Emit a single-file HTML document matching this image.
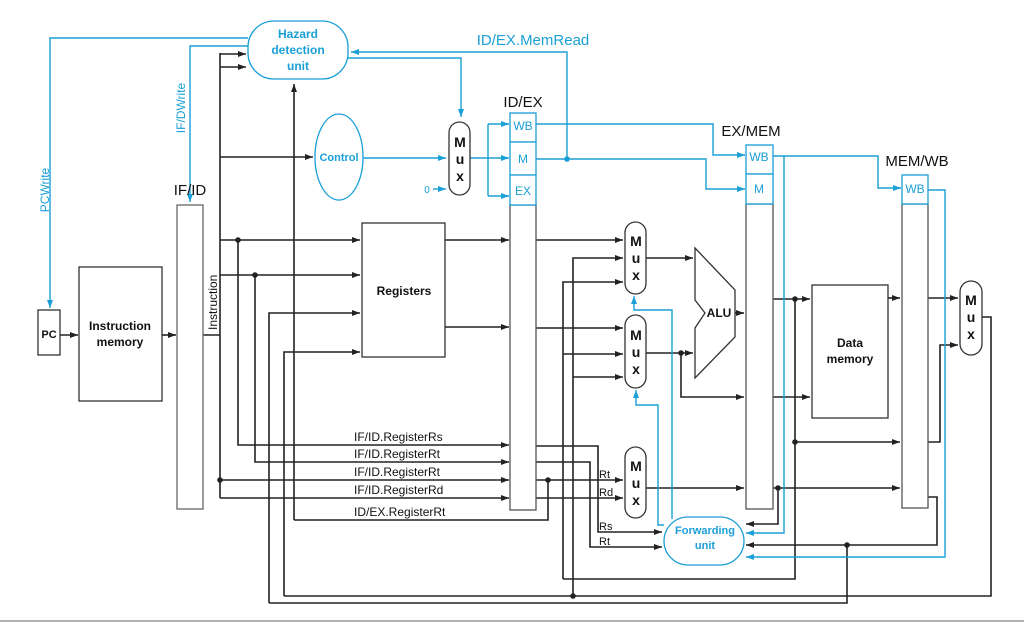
<!DOCTYPE html>
<html><head><meta charset="utf-8"><style>
html,body{margin:0;padding:0;background:#fff;}
svg{display:block;}
text{font-family:"Liberation Sans",sans-serif;}
</style></head><body>
<svg width="1024" height="632" viewBox="0 0 1024 632" xmlns="http://www.w3.org/2000/svg">
<defs>
<marker id="ab" markerWidth="8" markerHeight="6" refX="8" refY="3" orient="auto" markerUnits="userSpaceOnUse"><path d="M0,0 L8,3 L0,6 z" fill="#222"/></marker>
<marker id="au" markerWidth="8" markerHeight="6" refX="8" refY="3" orient="auto" markerUnits="userSpaceOnUse"><path d="M0,0 L8,3 L0,6 z" fill="#1a9fd6"/></marker>
</defs>
<g fill="none" stroke="#222" stroke-width="1.6">
<!-- PC/IM -->
<path d="M60,335 H78" marker-end="url(#ab)"/>
<path d="M162,335 H176" marker-end="url(#ab)"/>
<path d="M203,335 H220"/>
<path d="M220,53 V498"/>
<path d="M220,54 H246" marker-end="url(#ab)"/>
<path d="M220,67 H246" marker-end="url(#ab)"/>
<path d="M220,157 H313" marker-end="url(#ab)"/>
<path d="M220,240 H360" marker-end="url(#ab)"/>
<path d="M220,275 H360" marker-end="url(#ab)"/>
<path d="M238,240 V445 H509" marker-end="url(#ab)"/>
<path d="M255,275 V462 H509" marker-end="url(#ab)"/>
<path d="M220,480 H509" marker-end="url(#ab)"/>
<path d="M220,498 H509" marker-end="url(#ab)"/>
<path d="M294,520 V84" marker-end="url(#ab)"/>
<path d="M294,520 H548 V480"/>
<path d="M269,603 V313 H360" marker-end="url(#ab)"/>
<path d="M284,596 V352 H360" marker-end="url(#ab)"/>
<path d="M269,603 H847 V545"/>
<path d="M284,596 H991 V317 H982"/>
<!-- registers out -->
<path d="M445,240 H509" marker-end="url(#ab)"/>
<path d="M445,327 H509" marker-end="url(#ab)"/>
<path d="M536,240 H623" marker-end="url(#ab)"/>
<path d="M536,328 H623" marker-end="url(#ab)"/>
<path d="M573,596 V258 H623" marker-end="url(#ab)"/>
<path d="M573,377 H623" marker-end="url(#ab)"/>
<path d="M563,579 V282 H623" marker-end="url(#ab)"/>
<path d="M563,354 H623" marker-end="url(#ab)"/>
<path d="M563,579 H795 V299"/>
<path d="M536,446 H598 V532 H662" marker-end="url(#ab)"/>
<path d="M536,462 H590 V547 H662" marker-end="url(#ab)"/>
<path d="M536,480 H623" marker-end="url(#ab)"/>
<path d="M536,498 H623" marker-end="url(#ab)"/>
<!-- ALU -->
<path d="M646,258 H693" marker-end="url(#ab)"/>
<path d="M646,353 H693" marker-end="url(#ab)"/>
<path d="M681,353 V397 H744" marker-end="url(#ab)"/>
<path d="M735,313 H744" marker-end="url(#ab)"/>
<path d="M646,488 H744" marker-end="url(#ab)"/>
<path d="M773,488 H900" marker-end="url(#ab)"/>
<path d="M778,488 V524 H746" marker-end="url(#ab)"/>
<path d="M773,299 H810" marker-end="url(#ab)"/>
<path d="M773,397 H810" marker-end="url(#ab)"/>
<path d="M795,442 H900" marker-end="url(#ab)"/>
<path d="M888,298 H900" marker-end="url(#ab)"/>
<path d="M928,298 H958" marker-end="url(#ab)"/>
<path d="M928,442 H940 V345 H958" marker-end="url(#ab)"/>
<path d="M928,497 H937 V545 H746" marker-end="url(#ab)"/>
</g>
<g fill="#222">
<circle cx="238" cy="240" r="2.8"/><circle cx="255" cy="275" r="2.8"/><circle cx="220" cy="480" r="2.8"/>
<circle cx="548" cy="480" r="2.8"/><circle cx="573" cy="596" r="2.8"/><circle cx="681" cy="353" r="2.8"/>
<circle cx="795" cy="299" r="2.8"/><circle cx="795" cy="442" r="2.8"/><circle cx="778" cy="488" r="2.8"/>
<circle cx="847" cy="545" r="2.8"/>
</g>
<!-- blue lines -->
<g fill="none" stroke="#1a9fd6" stroke-width="1.4">
<path d="M248,38 H50 V308" marker-end="url(#au)"/>
<path d="M248,46 H190 V202" marker-end="url(#au)"/>
<path d="M348,58 H461 V117" marker-end="url(#au)"/>
<path d="M567,159 V52 H351" marker-end="url(#au)"/>
<path d="M363,158 H446" marker-end="url(#au)"/>
<path d="M433,189 H446" marker-end="url(#au)"/>
<path d="M470,158 H509" marker-end="url(#au)"/>
<path d="M488,124 V196"/>
<path d="M488,124 H509" marker-end="url(#au)"/>
<path d="M488,196 H509" marker-end="url(#au)"/>
<path d="M536,124 H713 V155 H745" marker-end="url(#au)"/>
<path d="M536,159 H706 V189 H745" marker-end="url(#au)"/>
<path d="M773,156 H878 V188 H901" marker-end="url(#au)"/>
<path d="M784,156 V533 H746" marker-end="url(#au)"/>
<path d="M928,190 H945 V557 H746" marker-end="url(#au)"/>
<path d="M672,519 V310 H634 V296" marker-end="url(#au)"/>
<path d="M664,525 H658 V405 H636 V390" marker-end="url(#au)"/>
</g>
<circle cx="567" cy="159" r="2.8" fill="#1a9fd6"/>
<!-- boxes -->
<g fill="#fff" stroke="#333" stroke-width="1.3">
<rect x="38" y="310" width="22" height="45"/>
<rect x="79" y="267" width="83" height="134"/>
<rect x="177" y="205" width="26" height="304" stroke="#666"/>
<rect x="362" y="223" width="83" height="134"/>
<rect x="510" y="205" width="26" height="305" stroke="#555"/>
<rect x="746" y="204" width="27" height="305" stroke="#555"/>
<rect x="902" y="204" width="26" height="304" stroke="#555"/>
<rect x="812" y="285" width="76" height="133"/>
<rect x="449" y="122" width="21" height="73" rx="10.5"/>
<rect x="625" y="222" width="21" height="72" rx="10.5"/>
<rect x="625" y="315" width="21" height="73" rx="10.5"/>
<rect x="625" y="447" width="21" height="71" rx="10.5"/>
<rect x="960" y="281" width="22" height="74" rx="11"/>
<polygon points="695,248 735,290 735,337 695,378 695,328 705,313 695,300"/>
</g>
<g fill="#fff" stroke="#1a9fd6" stroke-width="1.3">
<rect x="248" y="21" width="100" height="58" rx="26"/>
<ellipse cx="339" cy="157" rx="24" ry="43"/>
<rect x="664" y="517" width="80" height="48" rx="24"/>
<rect x="510" y="113" width="26" height="29"/><rect x="510" y="142" width="26" height="33"/><rect x="510" y="175" width="26" height="30"/>
<rect x="746" y="145" width="27" height="29"/><rect x="746" y="174" width="27" height="30"/>
<rect x="902" y="175" width="26" height="29"/>
</g>
<line x1="0" y1="621" x2="1024" y2="621" stroke="#999" stroke-width="1.5"/>
<!-- text -->
<g fill="#1a9fd6" font-weight="bold" font-size="12" text-anchor="middle">
<text x="298" y="38">Hazard</text><text x="298" y="54">detection</text><text x="298" y="70">unit</text>
<text x="339" y="161" font-size="11">Control</text>
<text x="705" y="534" font-size="11">Forwarding</text><text x="705" y="549" font-size="11">unit</text>
</g>
<g fill="#1a9fd6" font-size="12" text-anchor="middle">
<text x="523" y="130">WB</text><text x="523" y="163">M</text><text x="523" y="195">EX</text>
<text x="759" y="161">WB</text><text x="759" y="193">M</text>
<text x="915" y="193">WB</text>
<text x="427" y="193" font-size="10">0</text>
<text x="533" y="45" font-size="15">ID/EX.MemRead</text>
<text transform="translate(49,190) rotate(-90)" font-size="12">PCWrite</text>
<text transform="translate(185,108) rotate(-90)" font-size="12">IF/DWrite</text>
</g>
<g fill="#111" font-size="15" text-anchor="middle">
<text x="190" y="195">IF/ID</text><text x="523" y="107">ID/EX</text><text x="751" y="136">EX/MEM</text><text x="917" y="166">MEM/WB</text>
</g>
<g fill="#111" font-weight="bold" font-size="12" text-anchor="middle">
<text x="49" y="338" font-size="11">PC</text>
<text x="120" y="330">Instruction</text><text x="120" y="346">memory</text>
<text x="404" y="295">Registers</text>
<text x="850" y="347">Data</text><text x="850" y="363">memory</text>
<text x="719" y="317">ALU</text>
</g>
<g fill="#111" font-weight="bold" font-size="14" text-anchor="middle">
<text x="460" y="147">M</text><text x="460" y="164">u</text><text x="460" y="181">x</text>
<text x="636" y="246">M</text><text x="636" y="263">u</text><text x="636" y="280">x</text>
<text x="636" y="340">M</text><text x="636" y="357">u</text><text x="636" y="374">x</text>
<text x="636" y="471">M</text><text x="636" y="488">u</text><text x="636" y="505">x</text>
<text x="971" y="305">M</text><text x="971" y="322">u</text><text x="971" y="339">x</text>
</g>
<g fill="#111" font-size="12">
<text x="354" y="441">IF/ID.RegisterRs</text>
<text x="354" y="458">IF/ID.RegisterRt</text>
<text x="354" y="476">IF/ID.RegisterRt</text>
<text x="354" y="494">IF/ID.RegisterRd</text>
<text x="354" y="516">ID/EX.RegisterRt</text>
<text x="599" y="478" font-size="11">Rt</text>
<text x="599" y="496" font-size="11">Rd</text>
<text x="599" y="530" font-size="11">Rs</text>
<text x="599" y="545" font-size="11">Rt</text>
<text transform="translate(217,330) rotate(-90)">Instruction</text>
</g>
</svg>
</body></html>
